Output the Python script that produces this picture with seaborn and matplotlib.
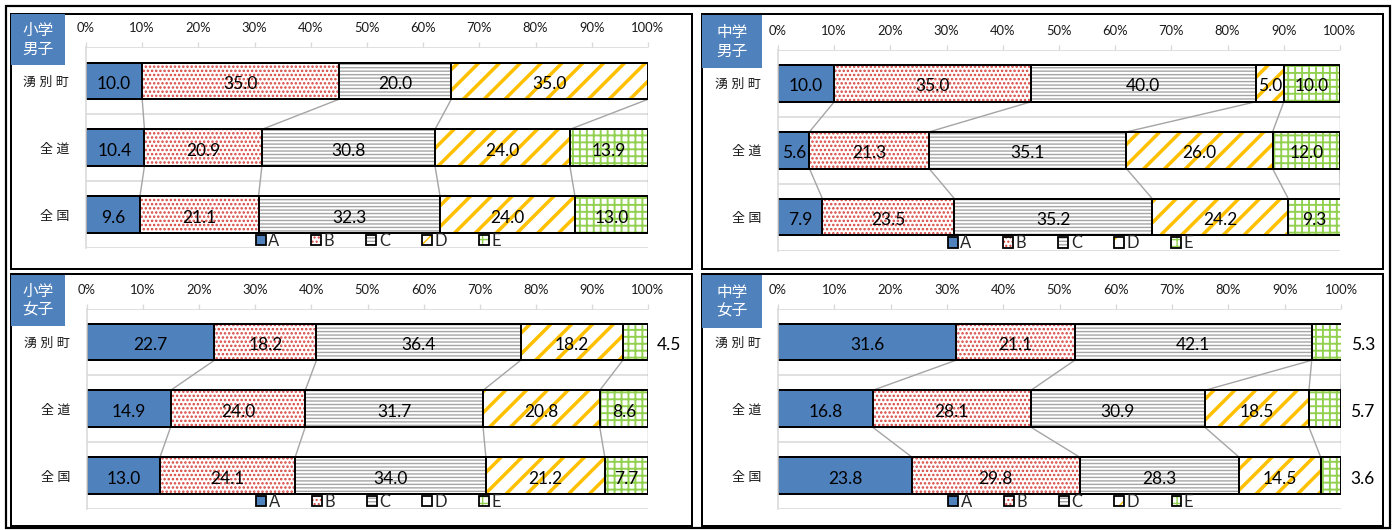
import matplotlib
matplotlib.use("Agg")
import matplotlib.pyplot as plt
from matplotlib.patches import Rectangle, Patch
from matplotlib.colors import to_rgba
import pandas as pd
import seaborn as sns

DPI = 125
W, H = 1393, 530


def px(v):
    """Convert a length in pixels to points at the output resolution."""
    return v * 72.0 / DPI


regions = ["湧別町", "全道", "全国"]
region_labels = ["湧 別 町", "全 道", "全 国"]
series = ["A", "B", "C", "D", "E"]
pct_ticks = [0, 10, 20, 30, 40, 50, 60, 70, 80, 90, 100]
pct_labels = [f"{t}%" for t in pct_ticks]

# 小学男子
eb_town = [10.0, 35.0, 20.0, 35.0, 0.0]
eb_pref = [10.4, 20.9, 30.8, 24.0, 13.9]
eb_nat = [9.6, 21.1, 32.3, 24.0, 13.0]
# 中学男子
jb_town = [10.0, 35.0, 40.0, 5.0, 10.0]
jb_pref = [5.6, 21.3, 35.1, 26.0, 12.0]
jb_nat = [7.9, 23.5, 35.2, 24.2, 9.3]
# 小学女子
eg_town = [22.7, 18.2, 36.4, 18.2, 4.5]
eg_pref = [14.9, 24.0, 31.7, 20.8, 8.6]
eg_nat = [13.0, 24.1, 34.0, 21.2, 7.7]
# 中学女子
jg_town = [31.6, 21.1, 42.1, 0.0, 5.3]
jg_pref = [16.8, 28.1, 30.9, 18.5, 5.7]
jg_nat = [23.8, 29.8, 28.3, 14.5, 3.6]

styles = {
    "A": dict(face="#4f81bd", hatch=None, hcolor=None, hlw=0.0),
    "B": dict(face="white", hatch=".....", hcolor="#d6423c", hlw=0.95),
    "C": dict(face="white", hatch="------", hcolor="#a6a6a6", hlw=0.8),
    "D": dict(face="white", hatch="//", hcolor="#ffc000", hlw=2.0),
    "E": dict(face="white", hatch="+++", hcolor="#92d050", hlw=1.1),
}

# pixel boxes: (left, top, right, bottom)
panels = [
    dict(title="小学\n男子", rows=[eb_town, eb_pref, eb_nat],
         plot=(86, 47.5, 648, 248), frame=(11, 14, 692, 269), tag=(11, 14, 65, 65)),
    dict(title="中学\n男子", rows=[jb_town, jb_pref, jb_nat],
         plot=(778, 50, 1340, 250.5), frame=(702, 14, 1383, 269), tag=(702, 15, 762, 68)),
    dict(title="小学\n女子", rows=[eg_town, eg_pref, eg_nat],
         plot=(87, 308.5, 648, 509), frame=(11, 274, 692, 526), tag=(11, 275, 65, 326)),
    dict(title="中学\n女子", rows=[jg_town, jg_pref, jg_nat],
         plot=(778, 308.5, 1341, 509), frame=(702, 274, 1383, 526), tag=(702, 275, 762, 328)),
]

BAR_H = 0.55
LABEL_SIZE = 10
TICK_SIZE = 7.5
CAT_SIZE = 7.5
LEGEND_SIZE = 9.5

sns.set_theme(style="white")
plt.rcParams["font.family"] = ["Lato", "Noto Sans CJK JP", "DejaVu Sans"]
plt.rcParams["hatch.linewidth"] = 0.8


def style_hatch(patch, st):
    if st["hatch"] is None:
        return
    patch._hatch_color = to_rgba(st["hcolor"])
    if hasattr(patch, "set_hatch_linewidth"):
        patch.set_hatch_linewidth(st["hlw"])
    else:
        patch._hatch_linewidth = st["hlw"]


def box_to_fig(box):
    x0, y0, x1, y1 = box
    return [x0 / W, 1 - y1 / H, (x1 - x0) / W, (y1 - y0) / H]


def draw_panel(ax, rows):
    df = pd.DataFrame(rows, columns=series)
    df.insert(0, "region", regions)
    cum = df[series].cumsum(axis=1)

    # stacked bars: draw running totals from the widest down, each one covering the previous
    for s in reversed(series):
        st = styles[s]
        n0 = len(ax.patches)
        sns.barplot(x=cum[s], y=df["region"], orient="y", ax=ax, color=st["face"],
                    saturation=1, width=BAR_H, edgecolor="black", linewidth=px(2),
                    hatch=st["hatch"], errorbar=None, zorder=2)
        for p in ax.patches[n0:]:
            style_hatch(p, st)

    # series lines joining segment boundaries of neighbouring bars
    half = BAR_H / 2
    for i in range(len(regions) - 1):
        for s in series:
            ax.plot([cum[s].iloc[i], cum[s].iloc[i + 1]], [i + half, i + 1 - half],
                    color="#a5a5a5", lw=px(1.4), zorder=1.5, solid_capstyle="butt")

    # value labels
    for i in range(len(regions)):
        for s in series:
            v = df[s].iloc[i]
            if v <= 0:
                continue
            txt = f"{v:.1f}"
            if s == series[-1] and v < 6:
                ax.annotate(txt, (cum[s].iloc[i], i), xytext=(px(9), px(-1.5)),
                            textcoords="offset points", ha="left", va="center_baseline",
                            fontsize=LABEL_SIZE, color="black", annotation_clip=False, zorder=4)
            else:
                ax.annotate(txt, (cum[s].iloc[i] - v / 2, i), xytext=(0, px(-1.5)),
                            textcoords="offset points", ha="center", va="center_baseline",
                            fontsize=LABEL_SIZE, color="black", zorder=4)

    ax.set_xlim(0, 100)
    ax.set_ylim(len(regions) - 0.5, -0.5)
    ax.set_xlabel("")
    ax.set_ylabel("")
    ax.xaxis.tick_top()
    ax.set_xticks(pct_ticks, labels=pct_labels)
    ax.tick_params(axis="x", which="major", direction="out", length=px(5), width=px(1.3),
                   color="#d9d9d9", labelsize=TICK_SIZE, pad=px(8), labelcolor="#1a1a1a")
    ax.set_yticks(range(len(regions)), labels=region_labels)
    ax.tick_params(axis="y", which="major", length=0, pad=px(17), labelsize=CAT_SIZE,
                   labelcolor="#1a1a1a")
    ax.set_yticks([-0.5 + k for k in range(len(regions) + 1)], minor=True)
    ax.tick_params(axis="y", which="minor", length=0)
    ax.grid(False)
    ax.grid(which="minor", axis="y", color="#d9d9d9", lw=px(1.6))
    ax.set_axisbelow(True)
    for sp in ["top", "right", "bottom"]:
        ax.spines[sp].set_visible(False)
    ax.spines["left"].set_color("#d9d9d9")
    ax.spines["left"].set_linewidth(px(1.6))

    handles = []
    for s in series:
        st = styles[s]
        h = Patch(facecolor=st["face"], edgecolor="black", hatch=st["hatch"], lw=px(1.8))
        style_hatch(h, st)
        handles.append(h)
    ax.legend(handles, series, loc="center", bbox_to_anchor=(0.52, 0.037), ncol=5,
              frameon=False, fontsize=LEGEND_SIZE, handlelength=0.6, handleheight=0.6,
              handletextpad=0.15, columnspacing=1.95, borderpad=0, borderaxespad=0)


fig = plt.figure(figsize=(W / DPI, H / DPI), dpi=DPI)
fig.patch.set_facecolor("white")

# outer frame
fig.add_artist(Rectangle((6 / W, 1 - 528 / H), (1390 - 6) / W, (528 - 6) / H,
                         transform=fig.transFigure, fill=False, ec="black", lw=px(2.2)))

for pan in panels:
    ax = fig.add_axes(box_to_fig(pan["plot"]))
    draw_panel(ax, pan["rows"])

    fx = box_to_fig(pan["frame"])
    fig.add_artist(Rectangle((fx[0], fx[1]), fx[2], fx[3], transform=fig.transFigure,
                             fill=False, ec="black", lw=px(2)))
    tg = box_to_fig(pan["tag"])
    fig.add_artist(Rectangle((tg[0], tg[1]), tg[2], tg[3], transform=fig.transFigure,
                             fc="#4f81bd", ec="none"))
    fig.text(tg[0] + tg[2] / 2, tg[1] + tg[3] / 2, pan["title"], ha="center", va="center",
             color="white", fontsize=9, linespacing=1.15,
             family=["Noto Sans CJK JP", "DejaVu Sans"])

fig.savefig("out.png", dpi=DPI, facecolor="white")
